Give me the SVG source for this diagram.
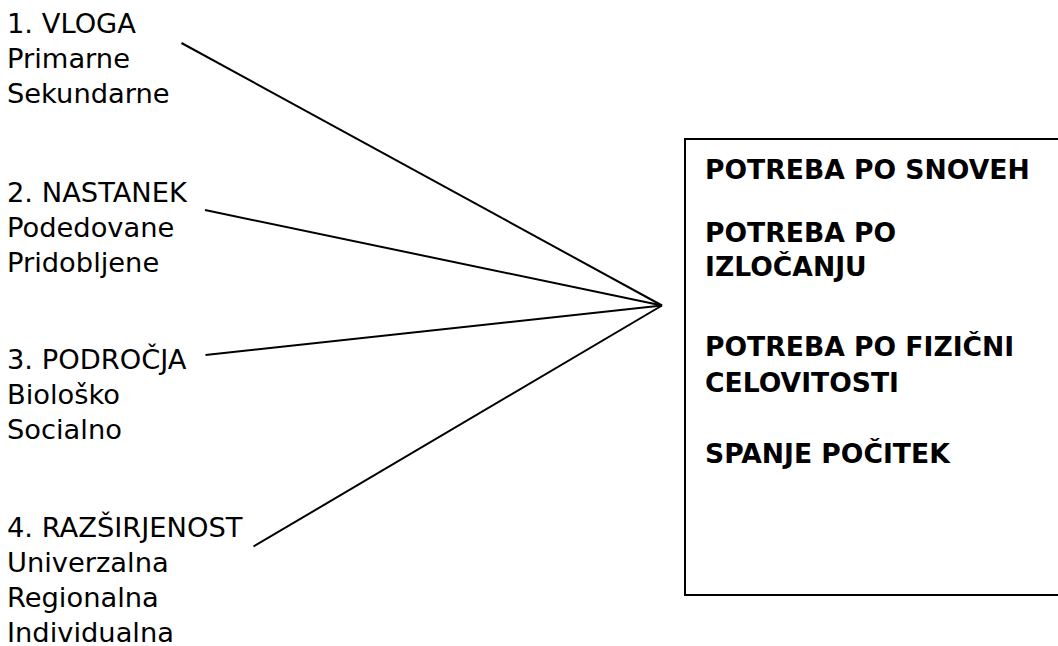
<svg xmlns="http://www.w3.org/2000/svg" width="1058" height="646" viewBox="0 0 1058 646">
<style>
.t{font-family:"DejaVu Sans","Liberation Sans",sans-serif;font-size:27.3px;fill:#000}
.b{font-family:"DejaVu Sans","Liberation Sans",sans-serif;font-size:26.6px;font-weight:bold;fill:#000}
.c{stroke:#000;stroke-width:2;fill:none}
</style>
<rect width="1058" height="646" fill="#fff"/>
<g id="n1"><text class="t" x="7" y="33">1. VLOGA</text><text class="t" x="7" y="68">Primarne</text><text class="t" x="7" y="103">Sekundarne</text></g>
<g id="n2"><text class="t" x="7" y="201.5">2. NASTANEK</text><text class="t" x="7" y="236.5">Podedovane</text><text class="t" x="7" y="271.5">Pridobljene</text></g>
<g id="n3"><text class="t" x="7" y="369">3. PODROČJA</text><text class="t" x="7" y="404">Biološko</text><text class="t" x="7" y="439">Socialno</text></g>
<g id="n4"><text class="t" x="7" y="536.5">4. RAZŠIRJENOST</text><text class="t" x="7" y="571.5">Univerzalna</text><text class="t" x="7" y="606.5">Regionalna</text><text class="t" x="7" y="641.5">Individualna</text></g>
<g id="box">
<rect x="685" y="139" width="400" height="456" class="c"/>
<text class="b" x="705" y="179">POTREBA PO SNOVEH</text>
<text class="b" x="705" y="242">POTREBA PO</text>
<text class="b" x="705" y="275.5">IZLOČANJU</text>
<text class="b" x="705" y="355.5">POTREBA PO FIZIČNI</text>
<text class="b" x="705" y="391.5">CELOVITOSTI</text>
<text class="b" x="705" y="463">SPANJE POČITEK</text>
</g>
<g id="connectors">
<line class="c" x1="181.5" y1="43" x2="662" y2="305.5"/>
<line class="c" x1="205" y1="210" x2="662" y2="305.5"/>
<line class="c" x1="205.5" y1="355" x2="662" y2="305.5"/>
<line class="c" x1="253.5" y1="546.5" x2="662" y2="305.5"/>
</g>
</svg>
